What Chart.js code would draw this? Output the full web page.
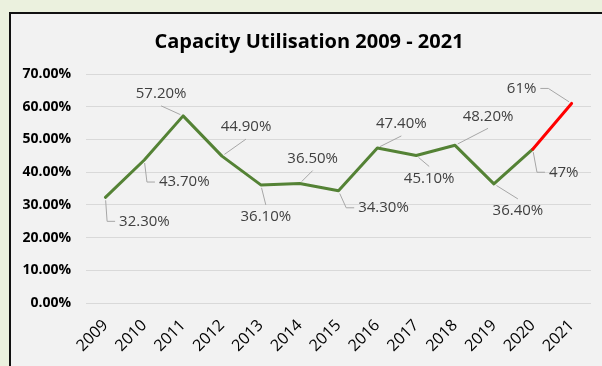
<!DOCTYPE html>
<html>
<head>
<meta charset="utf-8">
<script src="https://cdn.jsdelivr.net/npm/chart.js@4.4.0/dist/chart.umd.min.js"></script>
<style>
    html, body { margin: 0; padding: 0; }
    body {
        width: 602px;
        height: 366px;
        overflow: hidden;
        position: relative;
        background: #ebf1de;
    }
    #box {
        position: absolute;
        left: 9px;
        top: 12px;
        width: 620px;
        height: 380px;
        background: #f2f2f2;
        border-left: 2px solid #111;
        border-top: 2px solid #111;
    }
    #chart {
        position: absolute;
        left: 0;
        top: 0;
    }
</style>
</head>
<body>
<div id="box"></div>
<canvas id="chart" width="602" height="366"></canvas>
<script>
// Chart data
const years = ['2009', '2010', '2011', '2012', '2013', '2014', '2015', '2016', '2017', '2018', '2019', '2020', '2021'];
const utilisation = [32.3, 43.7, 57.2, 44.9, 36.1, 36.5, 34.3, 47.4, 45.1, 48.2, 36.4, 47, 61];
const yTicks = [0, 10, 20, 30, 40, 50, 60, 70];

// segments from this index onward are drawn red, labels from here are rounded
const highlightFrom = 11;
const roundedFrom = 11;

// label placement (text centre relative to point) and leader side
const labelOffsets = [
    [39, 24, 'left'], [40, 22, 'left'], [-22, -22, 'bottom'], [24, -29, 'bottom'],
    [5, 32, 'top'], [13, -25, 'bottom'], [45, 17, 'left'], [24, -24, 'bottom'],
    [13, 23, 'top'], [33, -29, 'bottom'], [24, 27, 'top'], [31, 23, 'left'],
    [-50, -15, 'right']
];

const labelFont = '15px "Open Sans"';
const leaderColor = '#a6a6a6';

function formatLabel(v, i) {
    return (i >= roundedFrom ? v.toFixed(0) : v.toFixed(2)) + '%';
}

// Data labels with leader lines
const dataLabelPlugin = {
    id: 'dataLabels',
    afterDatasetsDraw(chart) {
        const ctx = chart.ctx;
        const meta = chart.getDatasetMeta(0);
        ctx.save();
        ctx.font = labelFont;
        ctx.textAlign = 'center';
        ctx.textBaseline = 'middle';
        meta.data.forEach((pt, i) => {
            const text = formatLabel(utilisation[i], i);
            const [dx, dy, side] = labelOffsets[i];
            const tx = pt.x + dx;
            const ty = pt.y + dy;
            const hw = ctx.measureText(text).width / 2;
            const hh = 8;

            ctx.strokeStyle = leaderColor;
            ctx.lineWidth = 1;
            ctx.beginPath();
            if (side === 'left' || side === 'right') {
                const ex = side === 'left' ? tx - hw - 4 : tx + hw + 4;
                const kx = side === 'left' ? ex - 8 : ex + 8;
                const ang = Math.atan2(ty - pt.y, kx - pt.x);
                ctx.moveTo(pt.x + 3 * Math.cos(ang), pt.y + 3 * Math.sin(ang));
                ctx.lineTo(kx, ty);
                ctx.lineTo(ex, ty);
            } else {
                const ey = side === 'top' ? ty - hh - 4 : ty + hh + 4;
                const ang = Math.atan2(ey - pt.y, tx - pt.x);
                ctx.moveTo(pt.x + 3 * Math.cos(ang), pt.y + 3 * Math.sin(ang));
                ctx.lineTo(tx, ey);
            }
            ctx.stroke();

            ctx.fillStyle = '#404040';
            ctx.fillText(text, tx, ty);
        });
        ctx.restore();
    }
};

// Title drawn centred over the chart box
const titlePlugin = {
    id: 'boxTitle',
    afterDraw(chart) {
        const ctx = chart.ctx;
        ctx.save();
        ctx.font = 'bold 20px "Open Sans"';
        ctx.fillStyle = '#000';
        ctx.textAlign = 'center';
        ctx.textBaseline = 'middle';
        ctx.fillText('Capacity Utilisation 2009 - 2021', 309, 42);
        ctx.restore();
    }
};

const ctx = document.getElementById('chart').getContext('2d');
const chart = new Chart(ctx, {
    type: 'line',
    data: {
        labels: years,
        datasets: [{
            data: utilisation,
            borderColor: '#548235',
            borderWidth: 3,
            tension: 0,
            pointRadius: 0,
            borderCapStyle: 'round',
            borderJoinStyle: 'round',
            segment: {
                borderColor: c => c.p0DataIndex >= highlightFrom ? '#ff0000' : '#548235'
            }
        }]
    },
    options: {
        responsive: false,
        animation: false,
        layout: {
            padding: { left: 0, right: 11, top: 74, bottom: 0 }
        },
        plugins: {
            legend: { display: false },
            title: { display: false },
            tooltip: { enabled: false }
        },
        scales: {
            x: {
                offset: true,
                afterFit(scale) { scale.height = 63; },
                grid: { display: false, drawTicks: false },
                border: { display: false },
                ticks: {
                    minRotation: 45,
                    maxRotation: 45,
                    padding: 13,
                    color: '#000',
                    font: { family: 'Open Sans', size: 16 }
                }
            },
            y: {
                min: yTicks[0],
                max: yTicks[yTicks.length - 1],
                afterFit(scale) { scale.width = 86; },
                afterBuildTicks(scale) {
                    scale.ticks = yTicks.map(v => ({ value: v }));
                },
                grid: { color: '#d9d9d9', drawTicks: false },
                border: { display: false },
                ticks: {
                    padding: 15,
                    color: '#000',
                    font: { family: 'Open Sans', size: 14, weight: 'bold' },
                    callback: v => v.toFixed(2) + '%'
                }
            }
        }
    },
    plugins: [dataLabelPlugin, titlePlugin]
});
</script>
</body>
</html>
